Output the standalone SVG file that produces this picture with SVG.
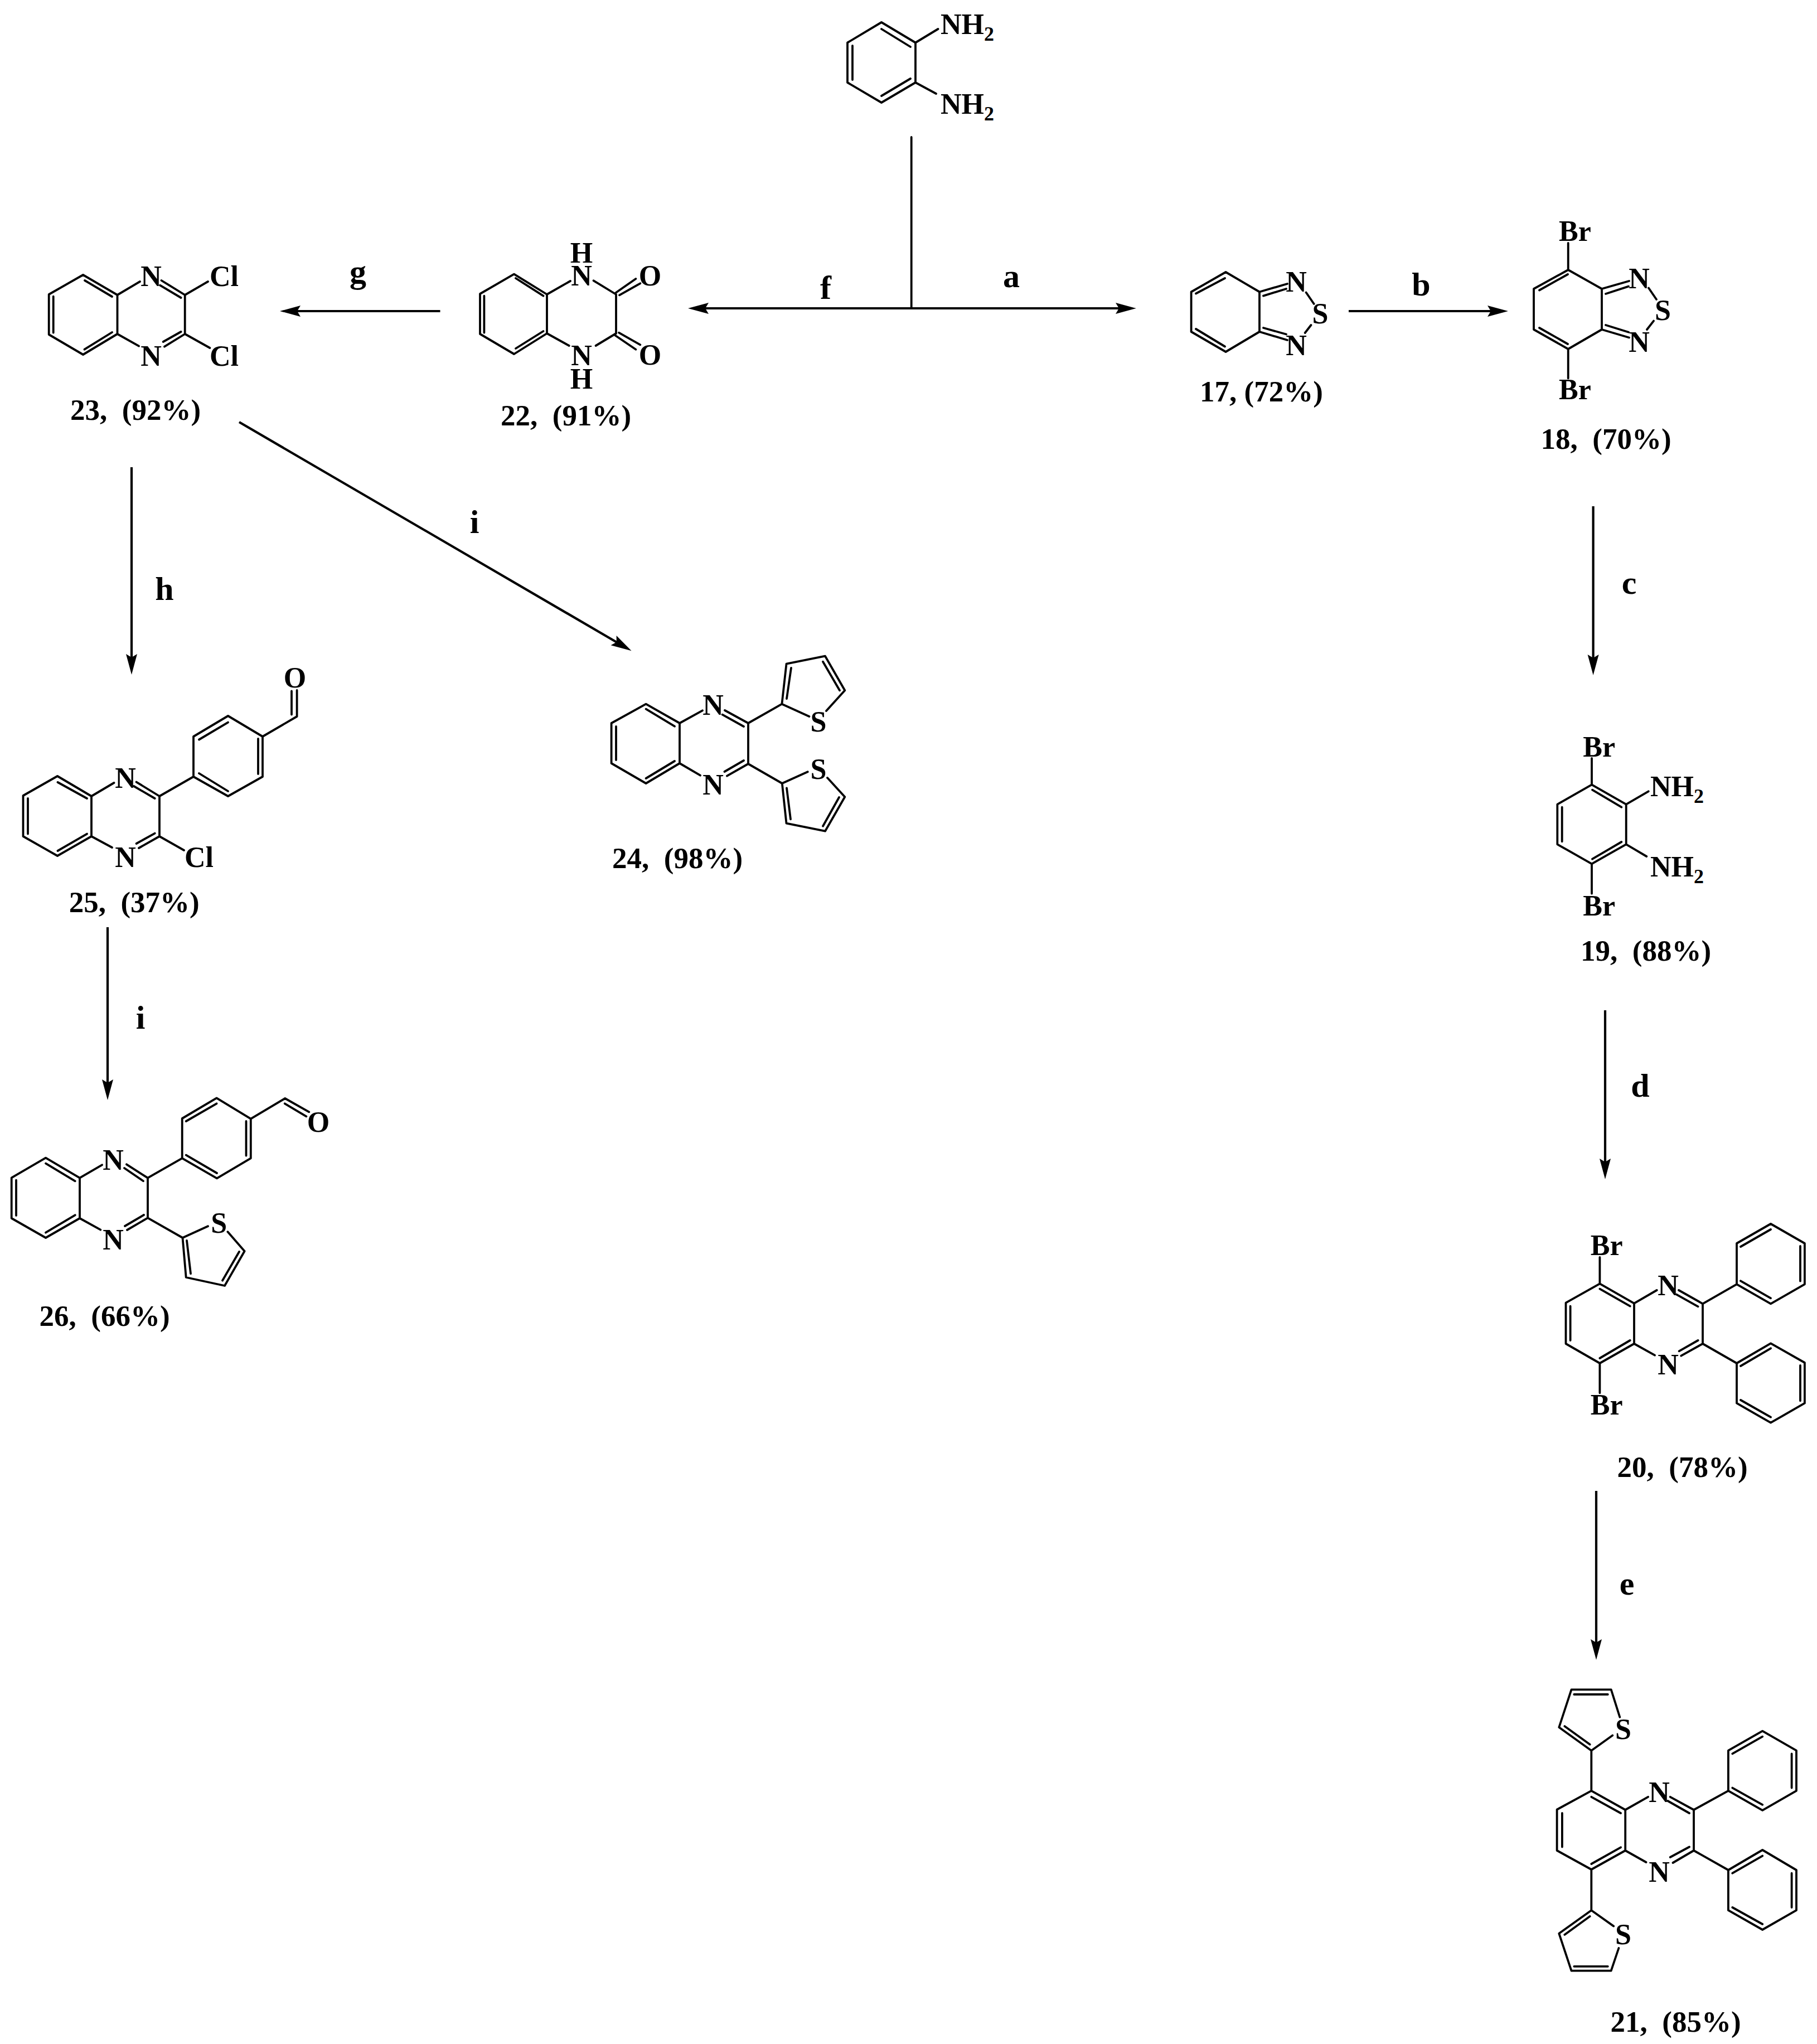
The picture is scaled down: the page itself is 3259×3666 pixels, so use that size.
<svg xmlns="http://www.w3.org/2000/svg" width="3259" height="3666" viewBox="0 0 3259 3666">
<style>
text{font-family:"Liberation Serif","Times New Roman",serif;font-weight:bold;fill:#000;white-space:pre}
.a{font-size:52px}
.m{font-size:52px;text-anchor:middle}
.l{font-size:53px}
.r{font-size:60px;text-anchor:middle}
.s{font-size:36px}
.b{fill:none;stroke:#000;stroke-width:3.8;stroke-linejoin:round;stroke-linecap:round}
.c{fill:none;stroke:#000;stroke-width:4.2;marker-end:url(#h)}
</style>
<defs>
<marker id="h" markerUnits="userSpaceOnUse" markerWidth="37" markerHeight="24" viewBox="0 0 37 24" refX="22" refY="12" orient="auto" overflow="visible"><polygon points="0,2 37,12 0,22 6,12" fill="#000"/></marker>
</defs>
<rect width="3259" height="3666" fill="#fff"/>
<g id="connectors">
<line class="b" x1="1634.7" y1="246" x2="1634.7" y2="553"/>
<line class="c" x1="1634.7" y1="553" x2="2023" y2="553"/>
<line class="c" x1="1634.7" y1="553" x2="1249" y2="553"/>
<line class="c" x1="2419" y1="558" x2="2690" y2="558"/>
<line class="c" x1="789.5" y1="558" x2="517" y2="558"/>
<line class="c" x1="2857.6" y1="908" x2="2857.6" y2="1196"/>
<line class="c" x1="236" y1="838" x2="236" y2="1195"/>
<line class="c" x1="429" y1="757" x2="1119.6" y2="1159.7"/>
<line class="c" x1="193" y1="1663" x2="193" y2="1958"/>
<line class="c" x1="2879" y1="1812" x2="2879" y2="2100"/>
<line class="c" x1="2863" y1="2674" x2="2863" y2="2962"/>
<text class="r" x="1481" y="536">f</text>
<text class="r" x="1814" y="515">a</text>
<text class="r" x="2549" y="530">b</text>
<text class="r" x="2922" y="1065">c</text>
<text class="r" x="642" y="507">g</text>
<text class="r" x="295" y="1076">h</text>
<text class="r" x="851" y="956">i</text>
<text class="r" x="252" y="1845">i</text>
<text class="r" x="2942" y="1967">d</text>
<text class="r" x="2918" y="2860">e</text>
</g>
<g id="node-start">
<path class="b" d="M1581 40L1642 76.5V148L1581 184L1520 148V76.5ZM1642 76.5L1682.5 52M1642 148L1679 168M1581 52L1633 84M1581 172L1633 141M1529 82V143"/>
<text class="a" x="1687" y="61">NH<tspan class="s" dy="12">2</tspan></text>
<text class="a" x="1687" y="204">NH<tspan class="s" dy="12">2</tspan></text>
</g>
<g id="node-17">
<path class="b" d="M2198.5 488L2259 523.5V595L2198.5 631L2136.6 595V523.5ZM2259 523.5L2309 509M2266 530.6L2307 518M2342.6 524.5L2356.7 545M2351.5 583L2340.7 597M2259 595L2309 610M2266 588L2307 599.5M2145 526.5L2197 499M2145 590L2197 621.5"/>
<text class="m" x="2325" y="523">N</text>
<text class="m" x="2325" y="637">N</text>
<text class="m" x="2368" y="580">S</text>
<text class="l" x="2152" y="720">17, (72%)</text>
</g>
<g id="node-18">
<path class="b" d="M2812.7 484L2873 518V591L2812.7 626L2751 591V518ZM2812.7 484V436M2812.7 626V678.4M2873 518L2922 504M2880 527L2921 513.6M2957 516.5L2971 537M2966 575.6L2954 591M2873 591L2922 605.5M2880 583L2921 595.7M2761 520.5L2812 492M2761 588L2812 617"/>
<text class="a" x="2796" y="431.5">Br</text>
<text class="a" x="2796" y="716">Br</text>
<text class="m" x="2940" y="516.5">N</text>
<text class="m" x="2940" y="631">N</text>
<text class="m" x="2982.5" y="574">S</text>
<text class="l" x="2763.6" y="804.6">18,  (70%)</text>
</g>
<g id="node-23">
<path class="b" d="M149 493L210.5 529V599L149 636L87.7 600V528ZM210.5 529L251 505M210.5 599L249 620.7M289.5 503L331.7 529V599L295 621.7M287 511.7L324.6 534M292.7 613L324.6 595M331.7 529L373 505M331.7 599L376.4 624M152 503L201 532M95.7 531.7V596.7M151.5 626.7L201 596"/>
<text class="m" x="271" y="513.3">N</text>
<text class="m" x="271" y="655.7">N</text>
<text class="a" x="376" y="512.7">Cl</text>
<text class="a" x="376" y="655.7">Cl</text>
<text class="l" x="126" y="753.3">23,  (92%)</text>
</g>
<g id="node-22">
<path class="b" d="M922 491.7L981 528V598L922 635L861 599V527ZM981 528L1023 504M981 598L1020.7 620M1105 528L1064.6 503.3M1105 598L1068.6 620M1105 528V598M1104.5 525L1140.4 500M1111 529.3L1148.3 508.3M1103.7 601.7L1140.4 626.7M1110 596.7L1148.3 618.3M925 499L974.5 530.7M868.4 530.7V596.7M925 625L974.5 594"/>
<text class="m" x="1043" y="470.7">H<tspan x="1043" y="511.7">N</tspan></text>
<text class="m" x="1043" y="655">N<tspan x="1043" y="696.7">H</tspan></text>
<text class="m" x="1166" y="512.3">O</text>
<text class="m" x="1166" y="654.3">O</text>
<text class="l" x="898" y="763">22,  (91%)</text>
</g>
<g id="node-25">
<path class="b" d="M103 1392L164 1428V1500L103 1535L41.5 1500V1427ZM164 1428L204.5 1404M164 1500L201 1520M244.6 1402.6L286 1428V1500L249 1521M240 1410L277.7 1432M244.6 1513L277.7 1494.6M286 1500L330 1525M103.5 1403L156 1432M50 1432V1495.6M103.5 1526L156 1495.6M286 1428L347 1393M347 1393V1321L409 1284L471 1321V1393L409 1428ZM357 1326.5L409 1295.6M463 1325V1388M357 1387L409 1419M471 1321L532.6 1285V1238M523 1281.6V1239.5"/>
<text class="m" x="529" y="1233">O</text>
<text class="m" x="225" y="1412.5">N</text>
<text class="m" x="225" y="1555">N</text>
<text class="a" x="331" y="1555">Cl</text>
<text class="l" x="123.7" y="1636">25,  (37%)</text>
</g>
<g id="node-24">
<path class="b" d="M1158.6 1262.7L1219 1297V1369L1158.6 1405L1096.6 1369V1297ZM1219 1297L1260 1274.3M1219 1369L1256 1390.7M1300 1274L1342 1297V1370L1304 1391.7M1295.6 1281.7L1334 1303M1299.5 1384L1334 1364M1158.6 1271.7L1210 1302.7M1105 1303V1363M1158.6 1396L1210 1365M1342 1297L1402.4 1262.7M1451.4 1285L1402.4 1262.7L1410.5 1190.7L1480 1176.7L1515.3 1238.3L1482 1275M1411 1253L1419 1198M1476 1186.7L1506 1238.3M1342 1370L1402.8 1405M1448.7 1384.3L1402.8 1405L1410.5 1476.7L1480 1490.7L1515.3 1429.3L1484 1395M1411 1413.3L1418 1469.3M1476 1481.7L1505 1430"/>
<text class="m" x="1279" y="1282.3">N</text>
<text class="m" x="1279" y="1425">N</text>
<text class="m" x="1468" y="1311.7">S</text>
<text class="m" x="1468" y="1396.7">S</text>
<text class="l" x="1098" y="1557.3">24,  (98%)</text>
</g>
<g id="node-26">
<path class="b" d="M82 2076.7L143 2112.7V2185L82 2220L20.7 2185V2112.3ZM143 2112.7L183 2089.3M143 2185L180.3 2205.7M227 2088.3L265 2112.7V2184.3L228 2206M223 2095L257 2118.3M224 2199L258 2179M82 2086.7L134.7 2118.3M29 2116.7V2180M82 2210.7L134.7 2179.3M265 2112.7L326.7 2077.3M326.7 2077.3V2006L388.5 1969.3L449.8 2006.7V2077.3L389 2113.3ZM333.7 2011L388.5 1979.3M441.5 2011V2072.7M333.7 2071.7L389 2104M449.8 2006.7L511.2 1970L554.3 1994.3M510.8 1979.3L549.4 2002.3M265 2184.3L327.5 2220M373 2199.3L327.5 2220L333.7 2291L403 2306L438.6 2244L408.4 2209.3M335 2225L342 2284.3M399 2296.7L429 2245"/>
<text class="m" x="203" y="2097.7">N</text>
<text class="m" x="203" y="2240.7">N</text>
<text class="m" x="571" y="2030">O</text>
<text class="m" x="392.6" y="2210.7">S</text>
<text class="l" x="70.5" y="2378.3">26,  (66%)</text>
</g>
<g id="node-19">
<path class="b" d="M2855 1407.3L2916.7 1442.7V1514.3L2855 1549.3L2793.3 1514.3V1442.7ZM2855 1407.3V1360M2855 1549.3V1602.7M2916.7 1442.7L2956.7 1419.3M2916.7 1514.3L2953.3 1536M2856 1416.7L2908.3 1447.7M2801.7 1447.7V1509.3M2856 1540.7L2908.3 1510"/>
<text class="a" x="2839.3" y="1356.7">Br</text>
<text class="a" x="2839.3" y="1641.7">Br</text>
<text class="a" x="2960" y="1428.3">NH<tspan class="s" dy="12">2</tspan></text>
<text class="a" x="2960" y="1571.7">NH<tspan class="s" dy="12">2</tspan></text>
<text class="l" x="2835" y="1723.3">19,  (88%)</text>
</g>
<g id="node-20">
<path class="b" d="M2869.4 2302.3L2931 2337.7V2410L2869.4 2445L2808.5 2410V2336.7ZM2869.4 2302.3V2255M2869.4 2445V2498.3M2931 2337.7L2971.7 2314M2931 2410L2968 2430.7M3011 2314L3054 2338.3V2410L3015.3 2431.7M3006.8 2321.7L3045.6 2343.3M3011.6 2423.3L3045.6 2404M2869.4 2311.7L2923.7 2342.7M2816.6 2342.7V2404M2869.4 2436L2923.7 2404M3054 2338.3L3115 2303.3M3115 2303.3V2230L3176 2195L3236.9 2230V2303.3L3176 2338.3ZM3122 2236L3176 2205M3229 2235V2297.7M3122 2297.3L3176 2328.3M3054 2410L3115 2445M3115 2445V2516.7L3176 2551.7L3236.9 2516.7V2444L3176 2409.3ZM3122 2450L3176 2418.3M3229 2449V2512.3M3122 2511L3176 2541.7"/>
<text class="a" x="2852.8" y="2251">Br</text>
<text class="a" x="2852.8" y="2536.7">Br</text>
<text class="m" x="2992" y="2322.7">N</text>
<text class="m" x="2992" y="2465">N</text>
<text class="l" x="2900.5" y="2649">20,  (78%)</text>
</g>
<g id="node-21">
<path class="b" d="M2854.3 3211.8L2915.2 3246V3319L2854.3 3353L2792.6 3319V3245.5ZM2915.2 3246L2956 3222.8M2915.2 3319L2952.5 3340M2995.7 3222.8L3038 3246V3319L3000.5 3341M2991.3 3230L3030 3252M2995.7 3331L3030 3312.5M2854.3 3222.8L2907 3252M2801.9 3252V3312.5M2854.3 3343L2907 3313.3M3038 3246L3099.9 3211.8M3099.9 3211.8V3139.7L3161.2 3104.7L3222 3139.7V3211.8L3161.2 3246.8ZM3107.3 3145.4L3161.2 3114.7M3213.6 3145.4V3206.6M3107.3 3206.6L3161.2 3236.8M3038 3319L3099.9 3354M3099.9 3354V3426.2L3161.2 3461L3222 3426.2V3354L3161.2 3318ZM3107.3 3359.7L3161.2 3328.6M3213.6 3359.7V3421M3107.3 3421L3161.2 3451M2854.3 3211.8V3139.7M2892.3 3112.5L2854.3 3139.7L2796.3 3098L2818.5 3030.3H2889.7L2905.3 3079.7M2806.3 3096L2851.7 3128.7M2823.3 3039H2883.8M2854.3 3353V3426.2M2894.2 3454.6L2854.3 3426.2L2796.3 3467.8L2818.5 3534.7H2889.7L2903.4 3494M2806.3 3470L2851.7 3437M2823.3 3526.8H2883.8"/>
<text class="m" x="2976" y="3231.5">N</text>
<text class="m" x="2976" y="3375">N</text>
<text class="m" x="2911.5" y="3118.7">S</text>
<text class="m" x="2911.5" y="3487.4">S</text>
<text class="l" x="2888.6" y="3644">21,  (85%)</text>
</g>
</svg>
